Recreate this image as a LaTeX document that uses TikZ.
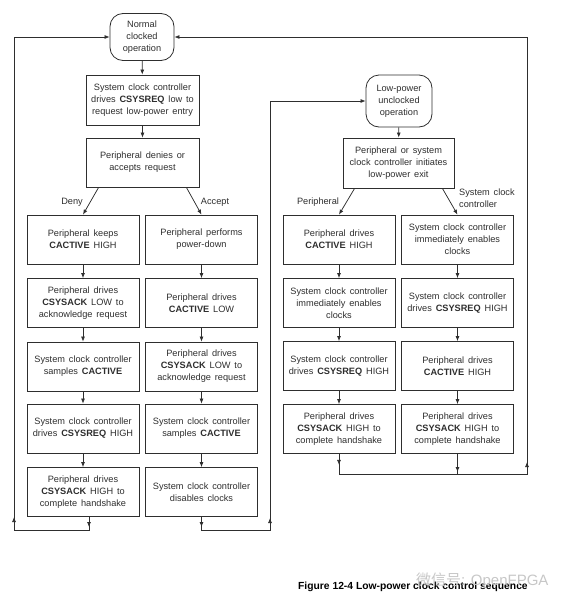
\documentclass[tikz,border=0pt]{standalone}
\usepackage{fontspec}
\setmainfont{Liberation Sans}
\newfontfamily\cjkfont{Noto Sans CJK SC}
\usetikzlibrary{arrows.meta,calc}
\definecolor{ink}{HTML}{2E2E2E}
\newcommand\widesp{\spaceskip=0.42em plus 0.1em\relax}
\begin{document}
\begin{tikzpicture}[x=1pt,y=-1pt,
  txt/.style={font=\fontsize{9.2}{12}\selectfont\widesp, text=ink},
  box/.style={txt, draw=ink, line width=0.8pt, minimum width=112pt, minimum height=49pt, align=center, inner sep=1pt},
  term/.style={txt, draw=ink, line width=0.8pt, rounded corners=13pt, align=center, inner sep=0pt},
  arr/.style={draw=ink, line width=0.75pt, -{Latex[length=5pt,width=4pt]}},
  ln/.style={draw=ink, line width=0.75pt},
  lbl/.style={txt, align=left}
]
\useasboundingbox (0,0) rectangle (572,608);

% top
\node[term, minimum width=64pt, minimum height=47pt] (n0) at (142,37) {Normal\\clocked\\operation};
\node[box, minimum width=113pt, minimum height=50pt] (a1) at (142.5,100) {System clock controller\\drives \textbf{CSYSREQ} low to\\request low-power entry};
\node[box, minimum width=113pt, minimum height=49pt] (a2) at (142.5,162.5) {Peripheral denies or\\accepts request};

% column A
\node[box] (A1) at (83,239.5) {Peripheral keeps\\\textbf{CACTIVE} HIGH};
\node[box] (A2) at (83,303) {Peripheral drives\\\textbf{CSYSACK} LOW to\\acknowledge request};
\node[box] (A3) at (83,366.5) {System clock controller\\samples \textbf{CACTIVE}};
\node[box] (A4) at (83,428.5) {System clock controller\\drives \textbf{CSYSREQ} HIGH};
\node[box] (A5) at (83,492) {Peripheral drives\\\textbf{CSYSACK} HIGH to\\complete handshake};

% column B
\node[box] (B1) at (201.5,239.5) {Peripheral performs\\power-down};
\node[box] (B2) at (201.5,303) {Peripheral drives\\\textbf{CACTIVE} LOW};
\node[box] (B3) at (201.5,366.5) {Peripheral drives\\\textbf{CSYSACK} LOW to\\acknowledge request};
\node[box] (B4) at (201.5,428.5) {System clock controller\\samples \textbf{CACTIVE}};
\node[box] (B5) at (201.5,492) {System clock controller\\disables clocks};

% right part
\node[term, minimum width=66pt, minimum height=52pt] (L) at (399,101) {Low-power\\unclocked\\operation};
\node[box, minimum width=111pt, minimum height=50pt] (b1) at (398.5,163) {Peripheral or system\\clock controller initiates\\low-power exit};

\node[box] (C1) at (339,239.5) {Peripheral drives\\\textbf{CACTIVE} HIGH};
\node[box] (C2) at (339,303) {System clock controller\\immediately enables\\clocks};
\node[box] (C3) at (339,366) {System clock controller\\drives \textbf{CSYSREQ} HIGH};
\node[box] (C4) at (339,429) {Peripheral drives\\\textbf{CSYSACK} HIGH to\\complete handshake};

\node[box] (D1) at (457.5,239.5) {System clock controller\\immediately enables\\clocks};
\node[box] (D2) at (457.5,303) {System clock controller\\drives \textbf{CSYSREQ} HIGH};
\node[box] (D3) at (457.5,366) {Peripheral drives\\\textbf{CACTIVE} HIGH};
\node[box] (D4) at (457.5,429) {Peripheral drives\\\textbf{CSYSACK} HIGH to\\complete handshake};

% branch labels
\node[lbl] (deny) at (72,202) {Deny};
\node[lbl] (acc) at (215,202) {Accept};
\node[lbl] (per) at (318,202) {Peripheral};
\node[lbl, anchor=west, inner sep=0pt] (scc) at (459,198) {System clock\\controller};

% vertical arrows
\draw[arr] (n0) -- (a1);
\draw[arr] (a1) -- (a2);
\draw[arr] ($(a2.south west)+(13,0)$) -- (A1.north);
\draw[arr] ($(a2.south east)+(-13,0)$) -- (B1.north);
\draw[arr] (A1) -- (A2);
\draw[arr] (A2) -- (A3);
\draw[arr] (A3) -- (A4);
\draw[arr] (A4) -- (A5);
\draw[arr] (B1) -- (B2);
\draw[arr] (B2) -- (B3);
\draw[arr] (B3) -- (B4);
\draw[arr] (B4) -- (B5);
\draw[arr] (L) -- (b1);
\draw[arr] ($(b1.south west)+(12,0)$) -- (C1.north);
\draw[arr] ($(b1.south east)+(-12,0)$) -- (D1.north);
\draw[arr] (C1) -- (C2);
\draw[arr] (C2) -- (C3);
\draw[arr] (C3) -- (C4);
\draw[arr] (D1) -- (D2);
\draw[arr] (D2) -- (D3);
\draw[arr] (D3) -- (D4);

% loop coordinates
\coordinate (la) at (89,530);
\coordinate (lb) at (14,530);
\coordinate (lc) at (14,37);
\coordinate (ma) at (201.5,530);
\coordinate (mb) at (270,530);
\coordinate (mc) at (270,101);
\coordinate (ra) at (339,474);
\coordinate (rd) at (457.5,474);
\coordinate (rb) at (527,474);
\coordinate (rc) at (527,37);

% left loop (deny)
\draw[ln] (A5.south -| la) -- (la) -- (lb) -- (lc);
\draw[arr] (A5.south -| la) -- ($(la)+(0,-3)$);
\draw[arr] (lb) -- ($(lb)+(0,-13)$);
\draw[arr] (lc) -- (n0.west);

% middle loop (accept)
\draw[ln] (B5.south) -- (ma) -- (mb) -- (mc);
\draw[arr] (B5.south) -- ($(ma)+(0,-3)$);
\draw[arr] (mb) -- ($(mb)+(0,-12)$);
\draw[arr] (mc) -- (L.west);

% right loop (exit)
\draw[ln] (C4.south) -- (ra) -- (rb) -- (rc);
\draw[ln] (D4.south) -- (rd);
\draw[arr] (C4.south) -- ($(C4.south)+(0,11)$);
\draw[arr] (D4.south) -- ($(rd)+(0,-2)$);
\draw[arr] (rb) -- ($(rb)+(0,-12)$);
\draw[arr] (rc) -- (n0.east);

% caption and watermark
\node[font=\fontsize{10.3}{12}\selectfont\bfseries, text=black, anchor=west, inner sep=0pt] (cap) at (298,587) {Figure 12-4 Low-power clock control sequence};
\node[font=\fontsize{15}{17}\selectfont, text=black!22, anchor=west, inner sep=0pt] (wm) at (416,581) {{\cjkfont 微信号}: OpenFPGA};
\end{tikzpicture}
\end{document}
